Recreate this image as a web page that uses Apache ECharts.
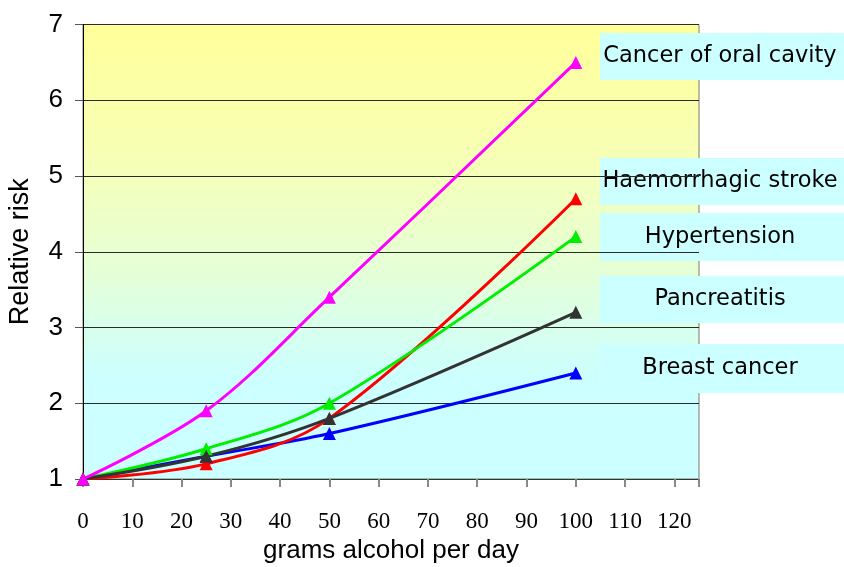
<!DOCTYPE html>
<html><head><meta charset="utf-8">
<script src="https://cdn.jsdelivr.net/npm/echarts@6/dist/echarts.min.js"></script>
<style>html,body{margin:0;padding:0;background:#fff}#c{width:844px;height:567px}</style>
</head><body><div id="c"></div>
<script>
const xValues = [0, 25, 50, 100];
const oralCavity = [1, 1.9, 3.4, 6.5];
const haemStroke = [1, 1.2, 1.8, 4.7];
const hypertension = [1, 1.4, 2.0, 4.2];
const pancreatitis = [1, 1.3, 1.8, 3.2];
const breastCancer = [1, 1.3, 1.6, 2.4];
const labels = ['Cancer of oral cavity', 'Haemorrhagic stroke', 'Hypertension', 'Pancreatitis', 'Breast cancer'];
const xTicks = [0,10,20,30,40,50,60,70,80,90,100,110,120];

const chart = echarts.init(document.getElementById('c'));
function mk(name, vals, color){
  return {
    name, type:'line', smooth:0.35, data: xValues.map((x,i)=>[x, vals[i]]),
    symbol:'triangle', symbolSize:13, showAllSymbol:true,
    lineStyle:{color, width:3}, itemStyle:{color},
    z: 3
  };
}
const boxes = [
  {t:labels[0], y:33, h:47},
  {t:labels[1], y:158, h:47},
  {t:labels[2], y:213, h:48},
  {t:labels[3], y:276, h:47},
  {t:labels[4], y:344, h:49}
];
chart.setOption({
  animation:false,
  grid:{left:83, right:145, top:24.5, bottom:88, outerBoundsMode:'none', containLabel:false, show:true, borderColor:'#7a7a66', borderWidth:1,
    backgroundColor:new echarts.graphic.LinearGradient(0,0,0,1,[
      {offset:0,color:'#FFFF99'},{offset:0.3,color:'#F6FFB6'},{offset:0.55,color:'#E4FFD8'},{offset:0.78,color:'#CCFFFF'},{offset:1,color:'#CCFFFF'}])},
  xAxis:{type:'value', min:0, max:125, interval:10,
    name:'grams alcohol per day', nameLocation:'middle', nameGap:59,
    nameTextStyle:{fontFamily:'Liberation Sans', fontSize:26, color:'#000'},
    axisLine:{show:true, lineStyle:{color:'#333', width:1}},
    axisTick:{show:true, length:8, lineStyle:{color:'#888', width:2}},
    axisLabel:{fontFamily:'Liberation Serif', fontSize:23, color:'#000', margin:31,
      formatter:v=> xTicks.includes(v) ? String(v) : ''},
    splitLine:{show:false}},
  yAxis:{type:'value', min:1, max:7, interval:1,
    name:'Relative risk', nameLocation:'middle', nameGap:49,
    nameTextStyle:{fontFamily:'Liberation Sans', fontSize:27, color:'#000'},
    axisLine:{show:true, lineStyle:{color:'#000', width:1}},
    axisTick:{show:true, length:8, lineStyle:{color:'#555'}},
    axisLabel:{fontFamily:'Liberation Sans', fontSize:26, color:'#000', margin:20},
    splitLine:{show:true, lineStyle:{color:'#2a2a2a', width:1}}},
  series:[
    mk(labels[4], breastCancer, '#0000FF'),
    mk(labels[1], haemStroke, '#FF0000'),
    mk(labels[2], hypertension, '#00EE00'),
    mk(labels[3], pancreatitis, '#333333'),
    mk(labels[0], oralCavity, '#FF00FF')
  ],
  graphic: boxes.map(b=>({
    type:'group', left:600, top:b.y, children:[
      {type:'rect', shape:{x:0,y:0,width:244,height:b.h}, style:{fill:'#CCFFFF'}},
      {type:'text', x:120, y:b.h/2, style:{text:b.t, fontFamily:'DejaVu Sans', fontSize:22.5, fill:'#000', align:'center', verticalAlign:'middle'}}
    ]
  }))
});
</script></body></html>
